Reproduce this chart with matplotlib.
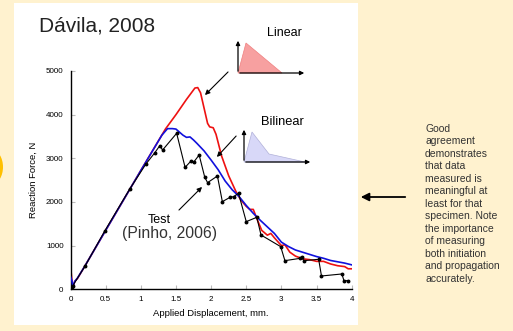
import matplotlib
matplotlib.use('Agg')
import matplotlib.pyplot as plt
from matplotlib.patches import Rectangle, Polygon, Ellipse

plt.rcParams['font.family'] = ['Liberation Sans', 'DejaVu Sans']

# Datos: curva "Linear" (rojo)
red_x = [0, 0.02, 0.035, 0.06, 0.1, 0.2, 0.5, 1.0, 1.35, 1.5, 1.65, 1.77, 1.81, 1.85, 1.9,
         1.95, 1.98, 2.03, 2.07, 2.15, 2.25, 2.35, 2.42, 2.5, 2.55, 2.6, 2.65, 2.72, 2.8,
         2.85, 2.9, 3.0, 3.05, 3.12, 3.2, 3.3, 3.4, 3.5, 3.6, 3.7, 3.8, 3.9, 3.95, 4.0]
red_y = [550, 200, 30, 180, 250, 520, 1350, 2720, 3670, 4000, 4350, 4610, 4620, 4500, 4150,
         3800, 3720, 3700, 3550, 3050, 2600, 2250, 2050, 1900, 1830, 1830, 1620, 1350, 1240,
         1280, 1180, 1000, 1020, 850, 760, 700, 680, 640, 640, 580, 540, 520, 470, 470]

# Datos: curva "Bilinear" (azul)
blue_x = [0, 0.02, 0.035, 0.06, 0.1, 0.2, 0.5, 1.0, 1.3, 1.38, 1.45, 1.5, 1.55, 1.6, 1.65,
          1.7, 1.75, 1.8, 1.9, 2.0, 2.1, 2.2, 2.3, 2.4, 2.5, 2.6, 2.7, 2.8, 2.9, 3.0, 3.1,
          3.2, 3.3, 3.4, 3.5, 3.6, 3.7, 3.8, 3.9, 4.0]
blue_y = [290, 200, 60, 180, 260, 520, 1350, 2720, 3530, 3680, 3680, 3670, 3600, 3530, 3480,
          3490, 3420, 3340, 3170, 2960, 2740, 2480, 2280, 2120, 1920, 1740, 1580, 1430, 1280,
          1080, 980, 900, 850, 800, 750, 710, 660, 630, 600, 560]

# Datos: ensayo (Pinho, 2006)
test_x = [0.02, 0.03, 0.21, 0.49, 0.84, 1.07, 1.20, 1.27, 1.31, 1.51, 1.63, 1.71, 1.75, 1.83,
          1.91, 1.95, 2.09, 2.16, 2.27, 2.32, 2.39, 2.50, 2.65, 2.71, 2.99, 3.05, 3.27, 3.29,
          3.32, 3.53, 3.57, 3.86, 3.89, 3.95]
test_y = [0, 76, 542, 1343, 2290, 2863, 3130, 3290, 3190, 3573, 2794, 2931, 2908, 3076,
          2565, 2443, 2595, 2008, 2107, 2122, 2198, 1550, 1649, 1244, 977, 656, 710, 733,
          656, 687, 305, 351, 198, 198]

x_ticks = [0, 0.5, 1, 1.5, 2, 2.5, 3, 3.5, 4]
x_tick_labels = ['0', '0.5', '1', '1.5', '2', '2.5', '3', '3.5', '4']
y_ticks = [0, 1000, 2000, 3000, 4000, 5000]

nota = ('Good\nagreement\ndemonstrates\nthat data\nmeasured is\nmeaningful at\n'
        'least for that\nspecimen. Note\nthe importance\nof measuring\nboth initiation\n'
        'and propagation\naccurately.')

W, H = 513, 331
fig = plt.figure(figsize=(W / 100, H / 100), dpi=100)
fig.patch.set_facecolor('#FFF2CF')

# Panel blanco (debajo de todo)
fig.patches.append(Rectangle((14 / W, (H - 325) / H), 344 / W, 322 / H,
                             transform=fig.transFigure, facecolor='white',
                             edgecolor='none', zorder=-5))

# Gráfico principal
ax = fig.add_axes([70.5 / W, 41.7 / H, 281.2 / W, 218.3 / H])
ax.set_facecolor('none')
ax.plot(red_x, red_y, color='#EE1111', lw=1.2, zorder=2)
ax.plot(blue_x, blue_y, color='#1111DD', lw=1.2, zorder=3)
ax.plot(test_x, test_y, color='black', lw=0.8, marker='o', ms=1.8, zorder=4)

ax.set_xlim(0, 4)
ax.set_ylim(0, 5000)
ax.set_xticks(x_ticks)
ax.set_xticklabels(x_tick_labels)
ax.set_yticks(y_ticks)
for s in ['top', 'right']:
    ax.spines[s].set_visible(False)
for s in ['left', 'bottom']:
    ax.spines[s].set_linewidth(1.0)
ax.tick_params(direction='in', length=3, color='#BBBBBB', labelsize=5.8, pad=5)
ax.set_xlabel('Applied Displacement, mm.', fontsize=6.8, labelpad=4)
ax.set_ylabel('Reaction Force, N', fontsize=6.8, labelpad=6)

# Capa superior para decoraciones (coordenadas en píxeles)
ov = fig.add_axes([0, 0, 1, 1])
ov.set_xlim(0, W)
ov.set_ylim(H, 0)
ov.axis('off')
ov.patch.set_alpha(0)

# Forma naranja en el borde izquierdo
ov.add_patch(Ellipse((-8, 167), 22, 34, facecolor='#FFC000', edgecolor='none'))

ov.text(39, 31, 'Dávila, 2008', fontsize=15, color='#222222', va='baseline')

# Icono Linear
ov.text(284, 36, 'Linear', fontsize=9, ha='center', va='baseline')
ov.add_patch(Polygon([(238, 73), (246, 43), (282, 73)], closed=True,
                     facecolor='#F7A0A0', edgecolor='#F08080', lw=0.5))
ov.annotate('', xy=(238, 38), xytext=(238, 74),
            arrowprops=dict(arrowstyle='-|>', color='black', lw=0.9, mutation_scale=6))
ov.annotate('', xy=(307, 73), xytext=(237, 73),
            arrowprops=dict(arrowstyle='-|>', color='black', lw=0.9, mutation_scale=6))
ov.annotate('', xy=(203, 97), xytext=(230, 70),
            arrowprops=dict(arrowstyle='-|>', color='black', lw=0.8, mutation_scale=7))

# Icono Bilinear
ov.text(282, 125, 'Bilinear', fontsize=9.3, ha='center', va='baseline')
ov.add_patch(Polygon([(244, 162), (252, 132), (269, 154), (305, 162)], closed=True,
                     facecolor='#D8D8F8', edgecolor='#B0B0D8', lw=0.5))
ov.annotate('', xy=(244, 127), xytext=(244, 163),
            arrowprops=dict(arrowstyle='-|>', color='black', lw=0.9, mutation_scale=6))
ov.annotate('', xy=(313, 162), xytext=(243, 162),
            arrowprops=dict(arrowstyle='-|>', color='black', lw=0.9, mutation_scale=6))
ov.annotate('', xy=(215, 159), xytext=(238, 134),
            arrowprops=dict(arrowstyle='-|>', color='black', lw=0.8, mutation_scale=7))

# Etiqueta Test
ov.text(159, 223, 'Test', fontsize=9, ha='center', va='baseline')
ov.text(170, 238, '(Pinho, 2006)', fontsize=11.3, ha='center', va='baseline', color='#333333')
ov.annotate('', xy=(204, 185), xytext=(177, 212),
            arrowprops=dict(arrowstyle='-|>', color='black', lw=0.8, mutation_scale=7))

# Flecha grande y nota lateral
ov.annotate('', xy=(358, 197), xytext=(408, 197),
            arrowprops=dict(arrowstyle='-|>', color='black', lw=1.3, mutation_scale=12))
ov.text(425, 124, nota, fontsize=7.5, color='#333333', va='top', ha='left', linespacing=1.31)

fig.savefig('out.png', dpi=100, facecolor=fig.get_facecolor())
